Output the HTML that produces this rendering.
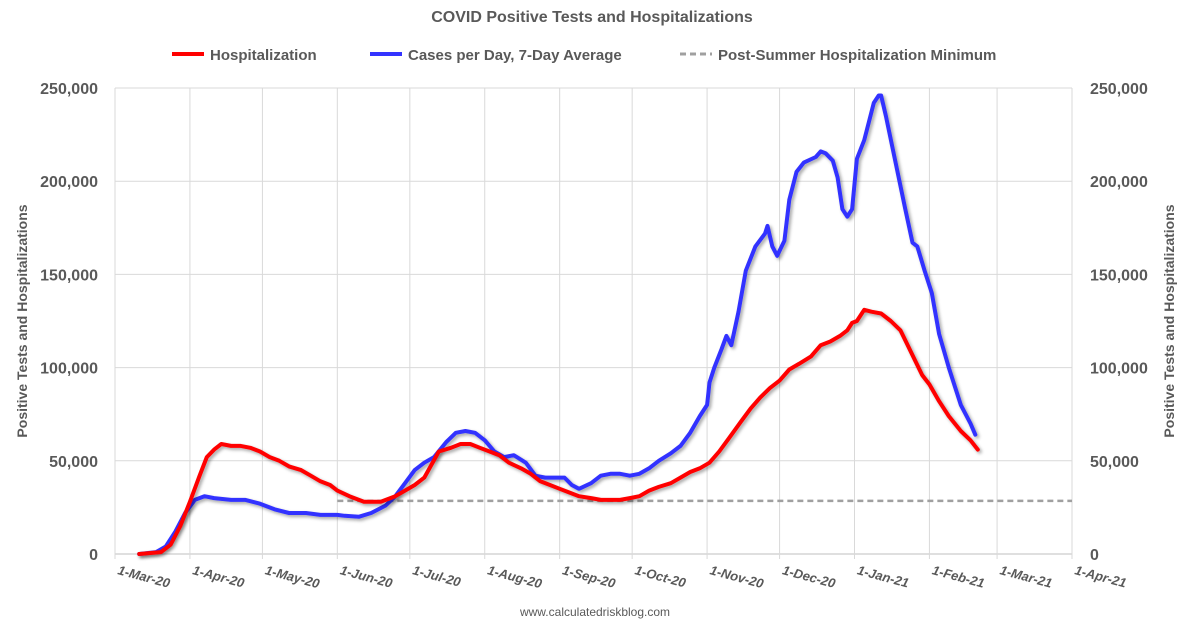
<!DOCTYPE html>
<html><head><meta charset="utf-8">
<style>
body{margin:0;background:#fff;font-family:"Liberation Sans",Arial,sans-serif;}
svg text{font-family:"Liberation Sans",Arial,sans-serif;fill:#595959;font-weight:bold;}
</style></head>
<body>
<svg id="chart" width="1185" height="631" viewBox="0 0 1185 631" xmlns="http://www.w3.org/2000/svg">
<defs><filter id="sh" x="-5%" y="-5%" width="110%" height="110%"><feDropShadow dx="2" dy="2" stdDeviation="1.5" flood-color="#000" flood-opacity="0.35"/></filter></defs>
<text x="592" y="22" text-anchor="middle" font-size="16">COVID Positive Tests and Hospitalizations</text>
<g>
<line x1="172" y1="54" x2="204" y2="54" stroke="#f00" stroke-width="4"/>
<text x="210" y="60" font-size="15">Hospitalization</text>
<line x1="370" y1="54" x2="402" y2="54" stroke="#3333ff" stroke-width="4"/>
<text x="408" y="60" font-size="15">Cases per Day, 7-Day Average</text>
<line x1="680" y1="54" x2="712" y2="54" stroke="#a0a0a0" stroke-width="3" stroke-dasharray="6,4"/>
<text x="718" y="60" font-size="15">Post-Summer Hospitalization Minimum</text>
</g>
<g id="grid"></g><g id="axes"></g><g id="series"></g>
<text transform="translate(27,321) rotate(-90)" text-anchor="middle" font-size="14">Positive Tests and Hospitalizations</text>
<text transform="translate(1174,321) rotate(-90)" text-anchor="middle" font-size="14">Positive Tests and Hospitalizations</text>
<text x="595" y="616" text-anchor="middle" font-size="12" style="font-weight:normal">www.calculatedriskblog.com</text>
</svg>
<script>
const xTickLabels=["1-Mar-20","1-Apr-20","1-May-20","1-Jun-20","1-Jul-20","1-Aug-20","1-Sep-20","1-Oct-20","1-Nov-20","1-Dec-20","1-Jan-21","1-Feb-21","1-Mar-21","1-Apr-21"];
const xTickDays=[0,31,61,92,122,153,184,214,245,275,306,337,365,396];
const yTicks=[0,50000,100000,150000,200000,250000];
const casesDays=[10,17,21,25,29,33,37,41,48,54,60,66,72,79,85,92,95,101,106,112,116,120,124,128,132,137,141,145,149,153,157,161,165,170,174,178,182,186,189,192,197,201,205,209,213,217,221,225,230,234,238,242,245,246,248,251,253,255,258,261,265,269,270,272,274,277,279,282,285,290,292,294,297,299,301,303,305,307,310,312,314,316,317,319,323,327,330,332,335,338,341,345,348,350,354,356];
const casesVals=[0,1,4,12,22,29,31,30,29,29,27,24,22,22,21,21,20.5,20,22,26,31,38,45,49,52,60,65,66,65,61,55,52,53,49,42,41,41,41,37,35,38,42,43,43,42,43,46,50,54,58,65,74,80,92,100,110,117,112,130,152,165,172,176,165,160,168,190,205,210,213,216,215,211,202,185,181,185,212,222,232,242,246,246,235,210,185,167,165,152,140,118,100,88,80,70,64];
const hospDays=[10,19,23,27,31,35,38,41,44,48,52,56,60,64,68,72,77,81,85,89,92,97,103,110,116,120,124,128,131,134,139,143,147,151,155,159,163,168,172,176,180,184,188,192,197,201,205,209,213,217,221,225,230,234,238,242,246,250,254,259,263,267,271,275,279,283,288,292,296,300,303,305,307,310,313,317,321,325,328,331,334,337,341,345,350,354,357];
const hospVals=[0,1,5,15,28,42,52,56,59,58,58,57,55,52,50,47,45,42,39,37,34,31,28,28,31,34,37,41,48,55,57,59,59,57,55,53,49,46,43,39,37,35,33,31,30,29,29,29,30,31,34,36,38,41,44,46,49,55,62,71,78,84,89,93,99,102,106,112,114,117,120,124,125,131,130,129,125,120,112,104,96,91,82,74,66,61,56];
const minStartDay=92, minValue=28500;

const NS="http://www.w3.org/2000/svg";
const X0=115,X1=1072,Y0=554,Y1=88;
const xs=d=>X0+d*(X1-X0)/396;
const ys=v=>Y0-v*(Y0-Y1)/250000;
function mk(tag,attrs,parent){const e=document.createElementNS(NS,tag);for(const k in attrs)e.setAttribute(k,attrs[k]);parent.appendChild(e);return e;}
const grid=document.getElementById('grid'),axes=document.getElementById('axes'),series=document.getElementById('series');
yTicks.forEach(v=>{
 const l=mk('line',{x1:X0,x2:X1,y1:ys(v),y2:ys(v),stroke:v?'#d9d9d9':'#bfbfbf','stroke-width':1},grid);
 
 
 const lab=v.toLocaleString('en-US');
 const t=mk('text',{x:98,y:ys(v)+6,'text-anchor':'end','font-size':16},axes);t.textContent=lab;
 
 
 const t2=mk('text',{x:1090,y:ys(v)+6,'text-anchor':'start','font-size':16},axes);t2.textContent=lab;
 
 
});
xTickDays.forEach((d,i)=>{
 const x=xs(d);
 const l=mk('line',{x1:x,x2:x,y1:Y1,y2:Y0+5,stroke:'#d9d9d9','stroke-width':1},grid);
 
 
 const t=mk('text',{transform:`translate(${x+2},${Y0+20}) rotate(15)`,'text-anchor':'start','font-size':13,'font-style':'italic'},axes);
 t.textContent=xTickLabels[i];
 
 
});
const ml=mk('line',{x1:xs(minStartDay),x2:X1,y1:ys(minValue),y2:ys(minValue),stroke:'#a0a0a0','stroke-width':2.5,'stroke-dasharray':'6,4'},series);


function path(days,vals,color,name){
 const d=days.map((dd,i)=>(i?'L':'M')+xs(dd).toFixed(1)+','+ys(vals[i]*1000).toFixed(1)).join('');
 const p=mk('path',{d:d,fill:'none',stroke:color,'stroke-width':4,'stroke-linejoin':'round','stroke-linecap':'round',filter:'url(#sh)'},series);
 
 
}
path(casesDays,casesVals,'#3333ff','cases-line');
path(hospDays,hospVals,'#ff0000','hospitalization-line');
</script>
</body></html>
